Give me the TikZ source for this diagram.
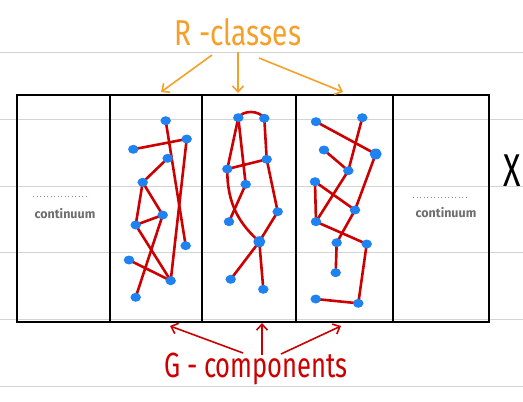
\documentclass[tikz,border=0pt]{standalone}
\usepackage{fontspec}
\setmainfont{Fira Sans}
\usetikzlibrary{arrows.meta,shapes.geometric}
\definecolor{dotblue}{HTML}{1E82F0}
\definecolor{edgered}{HTML}{CC0000}
\definecolor{rorange}{HTML}{F5A028}
\definecolor{ruled}{HTML}{D4D4D4}
\definecolor{contgray}{HTML}{6E6E6E}
\pgfdeclarelayer{paper}
\pgfdeclarelayer{edgelayer}
\pgfsetlayers{paper,edgelayer,main}
\tikzset{
  dot/.style={ellipse, fill=dotblue, inner sep=0pt, minimum width=10.5pt, minimum height=9pt},
  bigdot/.style={dot, minimum width=12pt, minimum height=11pt},
  edge/.style={draw=edgered, line width=2.6pt, line cap=round},
  ruleline/.style={draw=ruled, line width=1pt},
  frame/.style={draw=black, line width=2.4pt},
  rarrow/.style={draw=rorange, line width=1.6pt, -{Straight Barb[length=6pt,width=11pt,line width=1.6pt]}},
  garrow/.style={draw=edgered, line width=1.6pt, -{Straight Barb[length=6pt,width=11pt,line width=1.6pt]}},
  conttext/.style={text=contgray, font=\fontsize{12.5}{12.5}\selectfont\bfseries},
  dotsline/.style={draw=contgray!80, line width=1pt, dash pattern=on 0.9pt off 2.6pt},
}
\begin{document}
\begin{tikzpicture}[x=1pt,y=-1pt]
\useasboundingbox (0,0) rectangle (523,402);
% ruled paper lines
\begin{pgfonlayer}{paper}
\foreach \yy in {52.7,119.3,186,252.7,319.3,386}
  \draw[ruleline] (0,\yy) -- (523,\yy);
\end{pgfonlayer}
% frame
\draw[frame] (17,95) rectangle (489,322);
\foreach \xx in {110,202,296,393}
  \draw[frame] (\xx,95) -- (\xx,322);
% continuum labels
\draw[dotsline] (33,196) -- (89,196);
\node[conttext] (contL) at (65,214) {continuum};
\draw[dotsline] (413,197) -- (469,197);
\node[conttext] (contR) at (446,213) {continuum};
% X label
\node[font=\fontsize{46}{46}\selectfont] (X) at (512,171) {\scalebox{0.7}[1]{X}};
% ---- class 1 dots
\node[dot] (a1) at (165.7,120.7) {};
\node[dot] (a2) at (186.7,139) {};
\node[dot] (a3) at (133.3,149.3) {};
\node[dot] (a4) at (167.7,158.3) {};
\node[dot] (a5) at (142.7,182.3) {};
\node[dot] (a6) at (162.7,215) {};
\node[dot] (a7) at (135.7,225) {};
\node[dot] (a8) at (185.7,245.7) {};
\node[dot] (a9) at (129,260) {};
\node[dot] (a10) at (170.7,280.7) {};
\node[dot] (a11) at (135.7,297.3) {};
% ---- class 2 dots
\node[dot] (b1) at (238.3,117.7) {};
\node[dot] (b2) at (264.3,118.3) {};
\node[dot] (b3) at (266.7,159.3) {};
\node[dot] (b4) at (227.3,169) {};
\node[dot] (b5) at (245.7,184.3) {};
\node[dot] (b6) at (229,221.7) {};
\node[dot] (b7) at (277.7,211.7) {};
\node[bigdot] (b8) at (259.3,241.7) {};
\node[dot] (b9) at (230.7,279.3) {};
\node[dot] (b10) at (263.3,289.3) {};
% ---- class 3 dots
\node[dot] (c1) at (316,121.7) {};
\node[dot] (c2) at (362.3,117.7) {};
\node[bigdot] (c3) at (375.7,154) {};
\node[dot] (c4) at (324,150) {};
\node[dot] (c5) at (348.3,170.7) {};
\node[dot] (c6) at (315,181.7) {};
\node[dot] (c7) at (355,210) {};
\node[dot] (c8) at (316,221.7) {};
\node[dot] (c9) at (336.7,242.7) {};
\node[dot] (c10) at (366.7,244) {};
\node[dot] (c11) at (335.7,272.7) {};
\node[dot] (c12) at (315.7,299) {};
\node[dot] (c13) at (358.3,303.3) {};
\begin{pgfonlayer}{edgelayer}
% ---- class 1 edges
\draw[edge] (a3.center) -- (a2.center);
\draw[edge] (a1.center) -- (a8.center);
\draw[edge] (a2.center) -- (a10.center);
\draw[edge] (a4.center) -- (a5.center);
\draw[edge] (a5.center) -- (a7.center);
\draw[edge] (a5.center) -- (a6.center);
\draw[edge] (a7.center) -- (a6.center);
\draw[edge] (a7.center) -- (a10.center);
\draw[edge] (a6.center) -- (a11.center);
\draw[edge] (a9.center) -- (a10.center);
% ---- class 2 edges
\draw[edge] (b1.center) .. controls (243,110) and (259,110) .. (b2.center);
\draw[edge] (b1.center) -- (b4.center);
\draw[edge] (b1.center) -- (b5.center);
\draw[edge] (b2.center) -- (b3.center);
\draw[edge] (b4.center) -- (b3.center);
\draw[edge] (b5.center) -- (b6.center);
\draw[edge] (b4.center) .. controls (227,205) and (240,224) .. (b8.center);
\draw[edge] (b3.center) -- (b7.center);
\draw[edge] (b7.center) -- (b8.center);
\draw[edge] (b8.center) -- (b9.center);
\draw[edge] (b8.center) -- (b10.center);
% ---- class 3 edges
\draw[edge] (c1.center) -- (c3.center);
\draw[edge] (c2.center) -- (c5.center);
\draw[edge] (c4.center) -- (c5.center);
\draw[edge] (c5.center) -- (c8.center);
\draw[edge] (c6.center) -- (c8.center);
\draw[edge] (c6.center) -- (c7.center);
\draw[edge] (c3.center) -- (c7.center);
\draw[edge] (c7.center) -- (c9.center);
\draw[edge] (c8.center) -- (c10.center);
\draw[edge] (c9.center) -- (c11.center);
\draw[edge] (c10.center) -- (c13.center);
\draw[edge] (c12.center) -- (c13.center);
\end{pgfonlayer}
% ---- R-classes label and arrows
\node[text=rorange, font=\fontsize{36}{36}\selectfont, anchor=base] (rlab) at (238,45) {\scalebox{0.78}[1]{R -classes}};
\coordinate (rs1) at (212,55);
\coordinate (rs2) at (238,52);
\coordinate (rs3) at (259,58);
\coordinate (re1) at (161,92);
\coordinate (re2) at (238,93);
\coordinate (re3) at (343,92);
\draw[rarrow] (rs1) -- (re1);
\draw[rarrow] (rs2) -- (re2);
\draw[rarrow] (rs3) -- (re3);
% ---- G-components label and arrows
\node[text=edgered, font=\fontsize{35}{35}\selectfont, anchor=base] (glab) at (256,377) {\scalebox{0.73}[1]{G - components}};
\coordinate (gs1) at (243,353);
\coordinate (gs2) at (262,355);
\coordinate (gs3) at (281,354);
\coordinate (ge1) at (170,326);
\coordinate (ge2) at (262,323);
\coordinate (ge3) at (341,326);
\draw[garrow] (gs1) -- (ge1);
\draw[garrow] (gs2) -- (ge2);
\draw[garrow] (gs3) -- (ge3);
\end{tikzpicture}
\end{document}
